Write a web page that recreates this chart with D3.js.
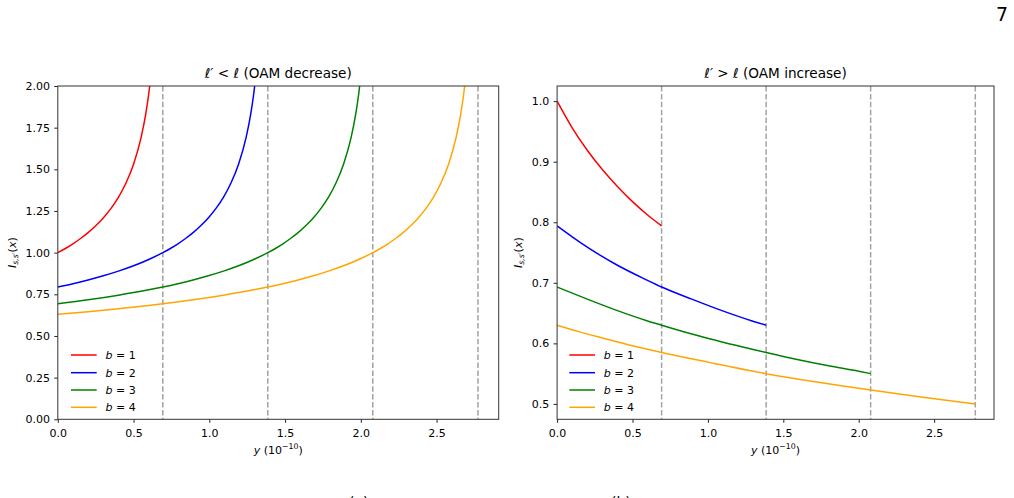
<!DOCTYPE html>
<html>
<head>
<meta charset="utf-8">
<script src="https://cdn.jsdelivr.net/npm/d3@7"></script>
<style>
  body { margin: 0; background: #fff; }
  svg text { font-family: "DejaVu Sans", sans-serif; fill: #000; }
</style>
</head>
<body>
<div id="plot"></div>
<script>
// ---- data ----
var bLabels = [1, 2, 3, 4]
var colors = ["red", "blue", "green", "orange"]
var dashX = [0.693, 1.386, 2.079, 2.773]   // b * ln2

var xTicks = [0, 0.5, 1.0, 1.5, 2.0, 2.5]
var decTicksY = [0, 0.25, 0.5, 0.75, 1.0, 1.25, 1.5, 1.75, 2.0]
var incTicksY = [0.5, 0.6, 0.7, 0.8, 0.9, 1.0]

// left panel: l' < l
var decX_b1 = [0, 0.05, 0.1, 0.15, 0.2, 0.25, 0.3, 0.35, 0.4, 0.45, 0.5, 0.55, 0.58, 0.6, 0.62]
var decY_b1 = [1.000, 1.025, 1.053, 1.085, 1.120, 1.161, 1.208, 1.264, 1.332, 1.418, 1.531, 1.692, 1.830, 1.952, 2.116]
var decX_b2 = [0, 0.1, 0.2, 0.3, 0.4, 0.5, 0.6, 0.693, 0.743, 0.793, 0.843, 0.893, 0.943, 0.993, 1.043, 1.093, 1.143, 1.193, 1.243, 1.273, 1.293, 1.313]
var decY_b2 = [0.794, 0.814, 0.836, 0.861, 0.889, 0.921, 0.959, 1.000, 1.025, 1.053, 1.085, 1.120, 1.161, 1.208, 1.264, 1.332, 1.418, 1.531, 1.692, 1.830, 1.952, 2.116]
var decX_b3 = [0, 0.2, 0.4, 0.6, 0.693, 0.793, 0.893, 0.993, 1.093, 1.193, 1.293, 1.386, 1.436, 1.486, 1.536, 1.586, 1.636, 1.686, 1.736, 1.786, 1.836, 1.886, 1.936, 1.966, 1.986, 2.006]
var decY_b3 = [0.693, 0.717, 0.745, 0.777, 0.794, 0.814, 0.836, 0.861, 0.889, 0.921, 0.959, 1.000, 1.025, 1.053, 1.085, 1.120, 1.161, 1.208, 1.264, 1.332, 1.418, 1.531, 1.692, 1.830, 1.952, 2.116]
var decX_b4 = [0, 0.2, 0.4, 0.6, 0.693, 0.893, 1.093, 1.293, 1.386, 1.486, 1.586, 1.686, 1.786, 1.886, 1.986, 2.079, 2.129, 2.179, 2.229, 2.279, 2.329, 2.379, 2.429, 2.479, 2.529, 2.579, 2.629, 2.659, 2.679, 2.699]
var decY_b4 = [0.630, 0.646, 0.664, 0.683, 0.693, 0.717, 0.745, 0.777, 0.794, 0.814, 0.836, 0.861, 0.889, 0.921, 0.959, 1.000, 1.025, 1.053, 1.085, 1.120, 1.161, 1.208, 1.264, 1.332, 1.418, 1.531, 1.692, 1.830, 1.952, 2.116]

// right panel: l' > l
var incX_b1 = [0, 0.1, 0.2, 0.3, 0.4, 0.5, 0.6, 0.693]
var incY_b1 = [1.000, 0.956, 0.919, 0.887, 0.859, 0.834, 0.812, 0.794]
var incX_b2 = [0, 0.1, 0.2, 0.4, 0.6, 0.693, 0.893, 1.093, 1.293, 1.386]
var incY_b2 = [0.794, 0.776, 0.759, 0.729, 0.704, 0.693, 0.673, 0.654, 0.637, 0.630]
var incX_b3 = [0, 0.2, 0.4, 0.6, 0.693, 0.9, 1.1, 1.3, 1.386, 1.6, 1.8, 2.0, 2.079]
var incY_b3 = [0.693, 0.673, 0.654, 0.637, 0.630, 0.615, 0.602, 0.590, 0.585, 0.573, 0.563, 0.554, 0.550]
var incX_b4 = [0, 0.15, 0.3, 0.5, 0.693, 1.0, 1.386, 1.7, 2.079, 2.4, 2.773]
var incY_b4 = [0.630, 0.619, 0.609, 0.596, 0.585, 0.569, 0.550, 0.537, 0.523, 0.512, 0.500]

var zip = (xs, ys) => xs.map((x, i) => [x, ys[i]])

var panels = [
  {
    id: "dec", left: 57.8, right: 498.7, xMax: 2.91,
    yDomain: [0, 2.0], yTicks: decTicksY, yFmt: d3.format(".2f"),
    title: ["ℓ′", " < ", "ℓ", " (OAM decrease)"], ylabX: 12,
    legendX: 71,
    series: [zip(decX_b1, decY_b1), zip(decX_b2, decY_b2), zip(decX_b3, decY_b3), zip(decX_b4, decY_b4)]
  },
  {
    id: "inc", left: 557.1, right: 994, xMax: 2.897,
    yDomain: [0.4746, 1.025], yTicks: incTicksY, yFmt: d3.format(".1f"),
    title: ["ℓ′", " > ", "ℓ", " (OAM increase)"], ylabX: 518,
    legendX: 569.3,
    series: [zip(incX_b1, incY_b1), zip(incX_b2, incY_b2), zip(incX_b3, incY_b3), zip(incX_b4, incY_b4)]
  }
]

var plotTop = 86, plotBottom = 419.3
var fs = 11

var svg = d3.select("#plot")
  .append("svg")
  .attr("width", 1014)
  .attr("height", 498)

panels.forEach(function (p) {
  var xScale = d3.scaleLinear().domain([0, p.xMax]).range([p.left, p.right])
  var yScale = d3.scaleLinear().domain(p.yDomain).range([plotBottom, plotTop])

  var g = svg.append("g")

  g.append("clipPath")
    .attr("id", "clip-" + p.id)
    .append("rect")
    .attr("x", p.left).attr("y", plotTop)
    .attr("width", p.right - p.left).attr("height", plotBottom - plotTop)

  // dashed guides at b ln2
  g.selectAll("line.dash")
    .data(dashX)
    .enter().append("line")
    .attr("class", "dash")
    .attr("x1", d => xScale(d)).attr("x2", d => xScale(d))
    .attr("y1", plotTop).attr("y2", plotBottom)
    .attr("stroke", "#a3a3a3")
    .attr("stroke-width", 1.5)
    .attr("stroke-dasharray", "5.5,2.4")

  var line = d3.line()
    .x(d => xScale(d[0]))
    .y(d => yScale(d[1]))
    .curve(d3.curveMonotoneX)

  g.append("g")
    .attr("clip-path", "url(#clip-" + p.id + ")")
    .selectAll("path")
    .data(p.series)
    .enter().append("path")
    .attr("d", line)
    .attr("fill", "none")
    .attr("stroke", (d, i) => colors[i])
    .attr("stroke-width", 1.5)

  // axes
  var xAxis = g.append("g")
    .attr("transform", "translate(0," + plotBottom + ")")
    .call(d3.axisBottom(xScale).tickValues(xTicks).tickFormat(d3.format(".1f"))
      .tickSize(3.5).tickPadding(6.1).tickSizeOuter(0))
  var yAxis = g.append("g")
    .attr("transform", "translate(" + p.left + ",0)")
    .call(d3.axisLeft(yScale).tickValues(p.yTicks).tickFormat(p.yFmt)
      .tickSize(3.5).tickPadding(4.3).tickSizeOuter(0))
  ;[xAxis, yAxis].forEach(function (a) {
    a.select(".domain").remove()
    a.selectAll("line").attr("stroke", "#222")
    a.selectAll("text").attr("font-size", fs).attr("font-family", "DejaVu Sans").attr("fill", "#000")
  })

  g.append("rect")
    .attr("x", p.left).attr("y", plotTop)
    .attr("width", p.right - p.left).attr("height", plotBottom - plotTop)
    .attr("fill", "none")
    .attr("stroke", "#333")
    .attr("stroke-width", 1)

  // title
  var t = g.append("text")
    .attr("x", (p.left + p.right) / 2).attr("y", 78.3)
    .attr("text-anchor", "middle")
    .attr("font-size", 13.6)
  p.title.forEach(function (s, i) {
    t.append("tspan").text(s).attr("font-style", (i % 2 == 0 && i < 3) ? "italic" : null)
  })

  // x label: y (10^-10)
  var xl = g.append("text")
    .attr("x", (p.left + p.right) / 2).attr("y", 453.8)
    .attr("text-anchor", "middle")
    .attr("font-size", fs)
  xl.append("tspan").text("y").attr("font-style", "italic")
  xl.append("tspan").text(" (10")
  xl.append("tspan").text("−10").attr("font-size", 7.8).attr("dy", -4.5)
  xl.append("tspan").text(")").attr("dy", 4.5)

  // y label: I_{s,s'}(x)
  var yl = g.append("text")
    .attr("transform", "translate(" + p.ylabX + "," + ((plotTop + plotBottom) / 2) + ") rotate(-90)")
    .attr("text-anchor", "middle")
    .attr("dy", "0.35em")
    .attr("font-size", fs)
  yl.append("tspan").text("I").attr("font-style", "italic")
  yl.append("tspan").text("s,s′").attr("font-style", "italic").attr("font-size", 7.8).attr("dy", 2.5)
  yl.append("tspan").text("(").attr("dy", -2.5)
  yl.append("tspan").text("x").attr("font-style", "italic")
  yl.append("tspan").text(")")

  // legend
  var legendY = [355, 372.7, 390, 407.3]
  var lg = g.selectAll("g.legend")
    .data(bLabels)
    .enter().append("g")
    .attr("class", "legend")
    .attr("transform", (d, i) => "translate(" + p.legendX + "," + legendY[i] + ")")
  lg.append("line")
    .attr("x1", 0).attr("x2", 25.7)
    .attr("stroke", (d, i) => colors[i])
    .attr("stroke-width", 1.5)
  var lt = lg.append("text")
    .attr("x", 34.5).attr("dy", "0.35em")
    .attr("font-size", fs)
  lt.append("tspan").text("b").attr("font-style", "italic")
  lt.append("tspan").text(d => " = " + d)
})

// page number and sub-figure captions (cut off at the bottom)
svg.append("text")
  .attr("x", 1008).attr("y", 20.5)
  .attr("text-anchor", "end")
  .attr("font-family", "Liberation Serif")
  .attr("font-size", 19)
  .text("7")
svg.append("text")
  .attr("x", 349).attr("y", 507)
  .attr("font-family", "Liberation Serif")
  .attr("font-size", 14)
  .text("(a)")
svg.append("text")
  .attr("x", 611).attr("y", 507)
  .attr("font-family", "Liberation Serif")
  .attr("font-size", 14)
  .text("(b)")
</script>
</body>
</html>
